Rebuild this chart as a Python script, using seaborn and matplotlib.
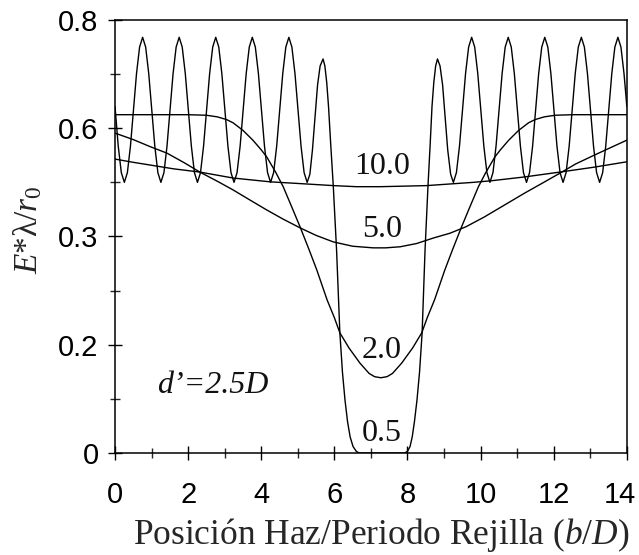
import numpy as np
import pandas as pd
import matplotlib
matplotlib.use("Agg")
import matplotlib.pyplot as plt
from matplotlib.transforms import ScaledTranslation
import seaborn as sns

# ---------------- data ----------------
# curve d/D = 0.5 (oscillating, with the gap in the middle)
x_05 = [0.000, 0.088, 0.172,
        0.255, 0.338, 0.422, 0.505, 0.588, 0.672, 0.755, 0.838, 0.922, 1.005, 1.088, 1.172,
        1.255, 1.338, 1.422, 1.505, 1.588, 1.672, 1.755, 1.838, 1.922, 2.005, 2.088, 2.172,
        2.255, 2.338, 2.422, 2.505, 2.588, 2.672, 2.755, 2.838, 2.922, 3.005, 3.088, 3.172,
        3.255, 3.338, 3.422, 3.505, 3.588, 3.672, 3.755, 3.838, 3.922, 4.005, 4.088, 4.172,
        4.255, 4.338, 4.422, 4.505, 4.588, 4.672, 4.755, 4.838, 4.922, 5.005, 5.088, 5.172,
        5.255, 5.330, 5.400, 5.470, 5.540, 5.610, 5.690, 5.740, 5.790, 5.840, 5.900, 5.970,
        6.060, 6.150, 6.220, 6.290, 6.360, 6.430, 6.510, 6.600, 6.680,
        7.920, 8.000, 8.070, 8.130, 8.190, 8.260, 8.330, 8.400, 8.480, 8.560, 8.620, 8.670,
        8.720, 8.770, 8.820, 8.890, 8.960, 9.030, 9.100, 9.180,
        9.255, 9.338, 9.422, 9.505, 9.588, 9.672, 9.755, 9.838, 9.922, 10.005, 10.088, 10.172,
        10.255, 10.338, 10.422, 10.505, 10.588, 10.672, 10.755, 10.838, 10.922, 11.005, 11.088, 11.172,
        11.255, 11.338, 11.422, 11.505, 11.588, 11.672, 11.755, 11.838, 11.922, 12.005, 12.088, 12.172,
        12.255, 12.338, 12.422, 12.505, 12.588, 12.672, 12.755, 12.838, 12.922, 13.005, 13.088, 13.172,
        13.255, 13.338, 13.422, 13.505, 13.588, 13.672, 13.755, 13.838, 13.922, 14.000]
y_05 = [0.640, 0.567, 0.518,
        0.500, 0.518, 0.567, 0.634, 0.701, 0.750, 0.768, 0.750, 0.701, 0.634, 0.567, 0.518,
        0.500, 0.518, 0.567, 0.634, 0.701, 0.750, 0.768, 0.750, 0.701, 0.634, 0.567, 0.518,
        0.500, 0.518, 0.567, 0.634, 0.701, 0.750, 0.768, 0.750, 0.701, 0.634, 0.567, 0.518,
        0.500, 0.518, 0.567, 0.634, 0.701, 0.750, 0.768, 0.750, 0.701, 0.634, 0.567, 0.518,
        0.500, 0.518, 0.567, 0.634, 0.701, 0.750, 0.768, 0.750, 0.701, 0.634, 0.567, 0.518,
        0.500, 0.515, 0.560, 0.620, 0.680, 0.715, 0.728, 0.715, 0.685, 0.640, 0.570, 0.493,
        0.375, 0.222, 0.150, 0.098, 0.058, 0.030, 0.012, 0.003, 0.000,
        0.000, 0.003, 0.012, 0.030, 0.058, 0.098, 0.150, 0.222, 0.375, 0.493, 0.570, 0.640,
        0.685, 0.715, 0.728, 0.715, 0.680, 0.620, 0.560, 0.515,
        0.500, 0.518, 0.567, 0.634, 0.701, 0.750, 0.768, 0.750, 0.701, 0.634, 0.567, 0.518,
        0.500, 0.518, 0.567, 0.634, 0.701, 0.750, 0.768, 0.750, 0.701, 0.634, 0.567, 0.518,
        0.500, 0.518, 0.567, 0.634, 0.701, 0.750, 0.768, 0.750, 0.701, 0.634, 0.567, 0.518,
        0.500, 0.518, 0.567, 0.634, 0.701, 0.750, 0.768, 0.750, 0.701, 0.634, 0.567, 0.518,
        0.500, 0.518, 0.567, 0.634, 0.701, 0.750, 0.768, 0.750, 0.701, 0.640]

# curve 2.0
x_20 = [0.0, 1.0, 2.0, 2.5, 2.8, 3.05, 3.23, 3.5, 3.77, 4.0, 4.15, 4.4, 4.6, 4.85, 5.06, 5.3,
        5.52, 5.8, 6.0, 6.15, 6.4, 6.7, 6.95, 7.1, 7.27, 7.44, 7.59, 7.84, 8.14, 8.39, 8.54,
        8.74, 9.02, 9.24, 9.48, 9.69, 9.94, 10.14, 10.39, 10.54, 10.77, 11.04, 11.31, 11.49,
        11.74, 12.04, 12.54, 13.5, 14.0]
y_20 = [0.625, 0.625, 0.625, 0.624, 0.621, 0.616, 0.610, 0.596, 0.578, 0.560, 0.547, 0.518, 0.492, 0.452, 0.418, 0.377,
        0.338, 0.283, 0.250, 0.222, 0.194, 0.166, 0.147, 0.141, 0.139, 0.141, 0.147, 0.166, 0.194, 0.222, 0.250,
        0.283, 0.338, 0.377, 0.418, 0.452, 0.492, 0.518, 0.547, 0.560, 0.578, 0.596, 0.610, 0.616,
        0.621, 0.624, 0.625, 0.625, 0.625]

# curve 5.0
x_50 = [0.0, 0.5, 0.96, 1.42, 1.9, 2.32, 2.8, 3.23, 3.7, 4.15, 4.6, 5.06, 5.5, 5.97, 6.5, 7.06,
        7.4, 7.8, 8.25, 8.7, 9.16, 9.6, 10.1, 10.6, 11.2, 11.7, 12.17, 12.6, 13.1, 13.55, 14.0]
y_50 = [0.591, 0.579, 0.566, 0.554, 0.536, 0.519, 0.502, 0.486, 0.467, 0.449, 0.432, 0.416, 0.402, 0.390, 0.382, 0.379,
        0.379, 0.381, 0.387, 0.397, 0.406, 0.418, 0.436, 0.456, 0.480, 0.499, 0.517, 0.534, 0.550, 0.564, 0.578]

# curve 10.0
x_100 = [0.0, 0.5, 0.96, 1.6, 2.32, 3.23, 4.24, 5.24, 5.97, 6.6, 7.25, 7.9, 8.52, 9.16, 9.8,
         10.3, 11.2, 12.17, 13.1, 14.0]
y_100 = [0.543, 0.537, 0.532, 0.525, 0.519, 0.508, 0.501, 0.497, 0.494, 0.492, 0.492, 0.493, 0.494, 0.497, 0.500,
         0.503, 0.510, 0.519, 0.528, 0.538]

curve_labels = ["0.5", "2.0", "5.0", "10.0"]
label_x = [7.3, 7.3, 7.3, 7.3]
label_y = [0.036, 0.190, 0.412, 0.530]

y_ticks = [0.0, 0.2, 0.4, 0.6, 0.8]
y_ticklabels = ["0", "0.2", "0.3", "0.6", "0.8"]
x_ticks = [0, 2, 4, 6, 8, 10, 12, 14]
x_ticklabels = ["0", "2", "4", "6", "8", "10", "12", "14"]

# ---------------- styling ----------------
sns.set_style("ticks")
plt.rcParams["font.family"] = ["Liberation Sans", "DejaVu Sans"]
plt.rcParams["mathtext.fontset"] = "custom"
plt.rcParams["mathtext.rm"] = "Liberation Serif"
plt.rcParams["mathtext.it"] = "Liberation Serif:italic"
plt.rcParams["mathtext.bf"] = "Liberation Serif:bold"

fig = plt.figure(figsize=(6.39, 5.55), dpi=100)
ax = fig.add_axes([0.180, 0.1838, 0.801, 0.7802])

frames = []
for name, xs, ys in [("0.5", x_05, y_05), ("2.0", x_20, y_20), ("5.0", x_50, y_50), ("10.0", x_100, y_100)]:
    frames.append(pd.DataFrame({"x": xs, "y": ys, "curve": name}))
df = pd.concat(frames, ignore_index=True)

sns.lineplot(data=df, x="x", y="y", hue="curve", units="curve", estimator=None,
             palette=["black"] * 4, legend=False, linewidth=1.0, ax=ax, sort=True)

ax.set_xlim(0, 14)
ax.set_ylim(0, 0.8)
ax.set_xticks(x_ticks)
ax.set_xticklabels(x_ticklabels)
ax.set_yticks(y_ticks)
ax.set_yticklabels(y_ticklabels)
ax.set_xticks(np.arange(1, 14, 2), minor=True)
ax.set_yticks([0.1, 0.3, 0.5, 0.7], minor=True)

ax.tick_params(axis="both", which="major", direction="inout", length=9.5, width=1.0,
               labelsize=21, colors="black")
ax.tick_params(axis="both", which="minor", direction="inout", length=6.5, width=1.0)
ax.tick_params(axis="x", which="major", pad=15.5)
ax.tick_params(axis="y", which="major", pad=7)

for s in ["left", "right", "top", "bottom"]:
    ax.spines[s].set_visible(True)
    ax.spines[s].set_color("black")
    ax.spines[s].set_linewidth(1.1)

serif = ["Liberation Serif", "DejaVu Serif"]
for lab, lx, ly in zip(curve_labels, label_x, label_y):
    ax.text(lx, ly, lab, fontsize=23, family=serif, ha="center", va="center", color="#111111")

ax.text(2.68, 0.124, "d’=2.5D", fontsize=23, family=serif, style="italic",
        ha="center", va="center", color="#111111")

ax.set_xlabel("Posición Haz/Periodo Rejilla ($b$/$D$)", fontsize=25.5, family=serif)
ax.set_ylabel("$E$*λ/$r_{\\mathit{0}}$", fontsize=24, family=serif)
ax.xaxis.set_label_coords(0.521, -0.145)
ax.yaxis.set_label_coords(-0.138, 0.515)

# nudge the last x tick label slightly left so it stays inside the canvas
last = ax.get_xticklabels()[-1]
last.set_transform(last.get_transform() + ScaledTranslation(-5 / 72, 0, fig.dpi_scale_trans))

fig.savefig("out.png", dpi=100, facecolor="white")
